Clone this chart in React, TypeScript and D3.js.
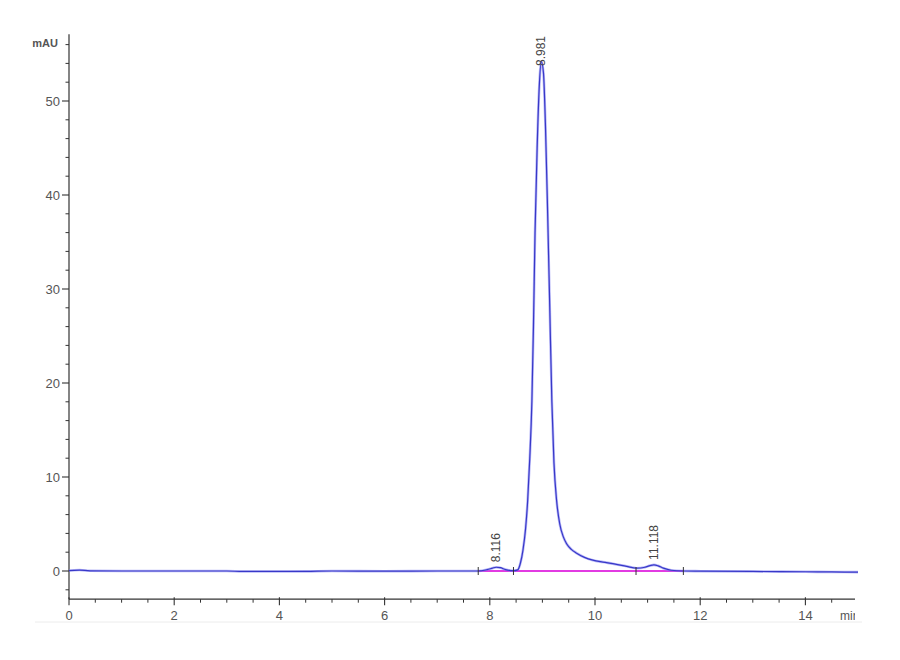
import React from "react";
import * as d3 from "d3";

// retention time (min) and absorbance (mAU)
const times = [
  0, 0.2, 0.4, 1, 2, 3, 3.3, 3.8, 4.5, 5, 6, 7, 7.5, 7.78, 7.95, 8.05, 8.12, 8.2, 8.3, 8.45,
  8.53, 8.58, 8.63, 8.68, 8.72, 8.76, 8.8, 8.83, 8.86, 8.9, 8.94, 8.98, 9.02, 9.06, 9.1,
  9.14, 9.18, 9.22, 9.27, 9.33, 9.4, 9.46, 9.55, 9.65, 9.8, 9.96, 10.15, 10.34, 10.6, 10.79,
  10.95, 11.05, 11.12, 11.2, 11.3, 11.45, 11.68, 12, 13, 14, 14.5, 15,
];
const signal = [
  0.05, 0.1, 0.02, 0, 0, 0, -0.05, -0.05, -0.04, 0, -0.02, 0, 0, 0, 0.15, 0.3, 0.4, 0.35, 0.15, 0.03,
  0.12, 0.8, 2.2, 4.5, 7.5, 12, 18, 26, 36, 45, 51.5, 54.2, 53, 47, 38,
  28, 18, 11.5, 7.5, 5.0, 3.6, 2.9, 2.3, 1.9, 1.45, 1.15, 0.95, 0.78, 0.5, 0.3,
  0.4, 0.58, 0.65, 0.55, 0.3, 0.08, 0, -0.02, -0.05, -0.08, -0.1, -0.12,
];

// integration baselines and peak annotations
const baseStarts = [7.78, 8.45, 10.78];
const baseEnds = [8.45, 10.78, 11.68];
const peakTimes = [8.116, 8.981, 11.118];
const peakHeights = [0.4, 54.2, 0.65];
const peakLabels = ["8.116", "8.981", "11.118"];
const yMajor = [0, 10, 20, 30, 40, 50];
const xMajor = [0, 2, 4, 6, 8, 10, 12, 14];

const W = 900;
const H = 660;
const FONT = "'Liberation Sans Narrow', 'Arial Narrow', 'Liberation Sans', sans-serif";

export default function App() {
  const x = d3.scaleLinear().domain([0, 15]).range([69, 858]);
  const y = d3.scaleLinear().domain([0, 50]).range([571, 101]);
  const xEnd = 855;
  const yBottom = y(-3);
  const yTop = y(57.1);

  const pts: [number, number][] = times.map((t, i) => [t, signal[i]]);
  const line = d3
    .line<[number, number]>()
    .x((d) => x(d[0]))
    .y((d) => y(d[1]))
    .curve(d3.curveMonotoneX);

  const yMinor = d3.range(-2, 57, 2).filter((v) => v % 10 !== 0);
  const xMinor = d3.range(0.5, 15, 0.5).filter((v) => v % 2 !== 0);
  const marks = Array.from(new Set([...baseStarts, ...baseEnds]));

  return (
    <svg
      width={W}
      height={H}
      style={{ position: "absolute", left: 0, top: 0, background: "#fff" }}
      fontFamily={FONT}
    >
      <defs>
        <clipPath id="clipUnit">
          <rect x={0} y={0} width={xEnd} height={H} />
        </clipPath>
      </defs>

      {/* faint separator under the axis labels */}
      <line x1={35} x2={862} y1={622} y2={622} stroke="#ececec" strokeWidth={1} />

      {/* y axis */}
      <line x1={x(0)} x2={x(0)} y1={yTop} y2={yBottom} stroke="#333" strokeWidth={1.2} />
      {yMajor.map((v) => (
        <g key={"ym" + v}>
          <line x1={x(0) - 7} x2={x(0)} y1={y(v)} y2={y(v)} stroke="#333" strokeWidth={1.1} />
          <text x={x(0) - 9} y={y(v)} dy="0.35em" textAnchor="end" fontSize={13} fill="#555">
            {v}
          </text>
        </g>
      ))}
      {yMinor.map((v) => (
        <line key={"yn" + v} x1={x(0) - 3.5} x2={x(0)} y1={y(v)} y2={y(v)} stroke="#333" strokeWidth={1} />
      ))}
      <text x={58} y={47} textAnchor="end" fontSize={11} fontWeight="bold" fill="#555">
        mAU
      </text>

      {/* x axis */}
      <line x1={x(0)} x2={xEnd} y1={yBottom} y2={yBottom} stroke="#333" strokeWidth={1.2} />
      {xMajor.map((v) => (
        <g key={"xm" + v}>
          <line x1={x(v)} x2={x(v)} y1={yBottom - 2} y2={yBottom + 6} stroke="#333" strokeWidth={1.1} />
          <text x={x(v)} y={620} textAnchor="middle" fontSize={13} fill="#555">
            {v}
          </text>
        </g>
      ))}
      {xMinor.map((v) => (
        <line key={"xn" + v} x1={x(v)} x2={x(v)} y1={yBottom} y2={yBottom + 3.5} stroke="#333" strokeWidth={1} />
      ))}
      <text x={840} y={620} fontSize={12} fill="#555" clipPath="url(#clipUnit)">
        min
      </text>

      {/* integration baselines */}
      {baseStarts.map((s, i) => (
        <line
          key={"b" + i}
          x1={x(s)}
          x2={x(baseEnds[i])}
          y1={y(0)}
          y2={y(0)}
          stroke="#e23be2"
          strokeWidth={1.8}
        />
      ))}

      {/* chromatogram trace */}
      <path d={line(pts) ?? ""} fill="none" stroke="#7d7df0" strokeWidth={2.6} strokeOpacity={0.55} />
      <path d={line(pts) ?? ""} fill="none" stroke="#3838c8" strokeWidth={1.2} />

      {marks.map((m) => (
        <line key={"k" + m} x1={x(m)} x2={x(m)} y1={y(0) - 4} y2={y(0) + 4} stroke="#333" strokeWidth={1} />
      ))}

      {/* peak labels */}
      {peakTimes.map((t, i) => (
        <text
          key={"p" + i}
          transform={`translate(${x(t) + 4},${i === 1 ? 36 : y(peakHeights[i]) - 5}) rotate(-90)`}
          textAnchor={i === 1 ? "end" : "start"}
          fontSize={12}
          fill="#444"
        >
          {peakLabels[i]}
        </text>
      ))}
    </svg>
  );
}
